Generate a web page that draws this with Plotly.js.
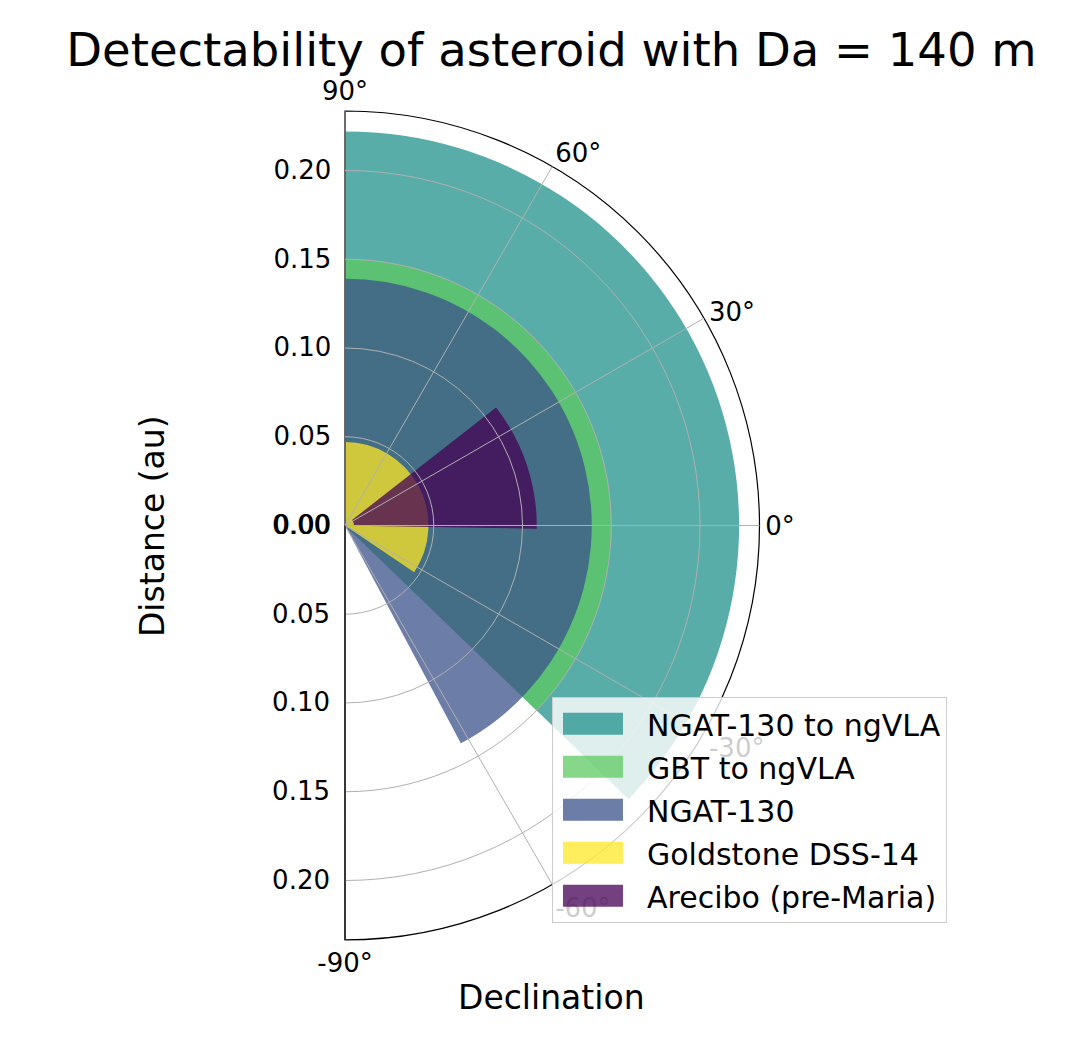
<!DOCTYPE html>
<html>
<head>
<meta charset="utf-8">
<script src="https://cdn.plot.ly/plotly-3.0.1.min.js"></script>
<style>
  html, body { margin: 0; padding: 0; background: white; }
  #myDiv { width: 1076px; height: 1059px; }
</style>
</head>
<body>
<div id="myDiv"></div>
<script>
// telescopes, in plotting order (first one is drawn at the bottom)
var names = ['NGAT-130 to ngVLA', 'GBT to ngVLA', 'NGAT-130', 'Goldstone DSS-14', 'Arecibo (pre-Maria)'];
var decMin = [-44, -44, -62, -34, -1];     // degrees
var decMax = [90, 90, 90, 90, 38];         // degrees
var distMin = [0, 0, 0, 0, 0.005];         // au
var distMax = [0.222, 0.150, 0.139, 0.047, 0.108]; // au
var colors = ['#21918c', '#5ec962', '#3b528b', '#fde725', '#440154'];

var radialTicks = [0, 0.05, 0.10, 0.15, 0.20];
var angleTicks = [-90, -60, -30, 0, 30, 60, 90];
var angleText = ['-90°', '-60°', '-30°', '0°', '30°', '60°', '90°'];

var data = [];
for (var i = 0; i < names.length; i++) {
  data.push({
    type: 'barpolar',
    name: names[i],
    legendgroup: 'g' + i,
    theta: [(decMin[i] + decMax[i]) / 2],
    width: [decMax[i] - decMin[i]],
    base: [distMin[i]],
    r: [distMax[i] - distMin[i]],
    marker: { color: colors[i], opacity: 0.75, line: { width: 0 } },
    hoverinfo: 'name'
  });
}

// dummy trace so the second polar (grid on top + lower radial labels) gets drawn
data.push({
  type: 'scatterpolar',
  subplot: 'polar2',
  r: [0],
  theta: [0],
  mode: 'markers',
  marker: { size: 1, opacity: 0 },
  showlegend: false,
  hoverinfo: 'skip'
});

var dom = { x: [0.3206, 0.7059], y: [0.1124, 0.8952] };
var rRange = [0, 0.2335];
var gridCol = '#b0b0b0';

var layout = {
  width: 1076,
  height: 1059,
  margin: { l: 0, r: 0, t: 0, b: 0 },
  paper_bgcolor: 'white',
  font: { family: 'DejaVu Sans', color: 'black', size: 25 },
  title: {
    text: 'Detectability of asteroid with Da = 140 m',
    font: { size: 46.5 },
    x: 0.5125, xanchor: 'center',
    y: 0.953, yanchor: 'middle', yref: 'container'
  },
  showlegend: true,
  legend: {
    x: 0.513, y: 0.342, xanchor: 'left', yanchor: 'top',
    bgcolor: 'rgba(255,255,255,0.8)',
    bordercolor: '#cccccc', borderwidth: 1,
    font: { size: 30 },
    itemwidth: 84,
    tracegroupgap: 1
  },
  // bars live here, no grid (grid is drawn on polar2, over the bars)
  polar: {
    domain: dom,
    sector: [-90, 90],
    bgcolor: 'white',
    radialaxis: {
      angle: 90,
      side: 'counterclockwise',
      range: rRange,
      tickmode: 'array',
      tickvals: radialTicks,
      tickformat: '.2f',
      tickangle: 90,
      ticks: 'outside', ticklen: 4, tickcolor: 'rgba(0,0,0,0)',
      showline: true, linecolor: 'black', linewidth: 1.2,
      showgrid: false,
      tickfont: { size: 26 }
    },
    angularaxis: {
      tickmode: 'array',
      tickvals: angleTicks,
      ticktext: angleText,
      ticks: '',
      showline: true, linecolor: 'black', linewidth: 1.2,
      showgrid: false,
      tickfont: { size: 26 }
    }
  },
  polar2: {
    domain: dom,
    sector: [-90, 90],
    bgcolor: 'rgba(0,0,0,0)',
    radialaxis: {
      angle: -90,
      side: 'clockwise',
      range: rRange,
      tickmode: 'array',
      tickvals: radialTicks,
      tickformat: '.2f',
      tickangle: -90,
      ticks: 'outside', ticklen: 4, tickcolor: 'rgba(0,0,0,0)',
      showgrid: true, gridcolor: gridCol, gridwidth: 1.2,
      showline: true, linecolor: 'black', linewidth: 1.2,
      tickfont: { size: 26 }
    },
    angularaxis: {
      tickmode: 'array',
      tickvals: angleTicks,
      showline: false, showticklabels: false, ticks: '',
      showgrid: true, gridcolor: gridCol, gridwidth: 1.2
    }
  },
  annotations: [
    {
      text: 'Distance (au)', xref: 'paper', yref: 'paper',
      x: 0.1413, y: 0.5033, xanchor: 'center', yanchor: 'middle',
      textangle: -90, showarrow: false,
      font: { size: 33 }
    },
    {
      text: 'Declination', xref: 'paper', yref: 'paper',
      x: 0.5127, y: 0.0585, xanchor: 'center', yanchor: 'middle',
      showarrow: false,
      font: { size: 33 }
    }
  ]
};

Plotly.newPlot('myDiv', data, layout, { displayModeBar: false }).then(function (gd) {
  // bigger, see-through legend patches, like the original
  var pts = gd.querySelectorAll('.legend .legendpoints path');
  for (var k = 0; k < pts.length; k++) {
    pts[k].setAttribute('d', 'M-37,-11H23V11H-37Z');
    pts[k].style.opacity = 0.75;
  }
});
</script>
</body>
</html>
